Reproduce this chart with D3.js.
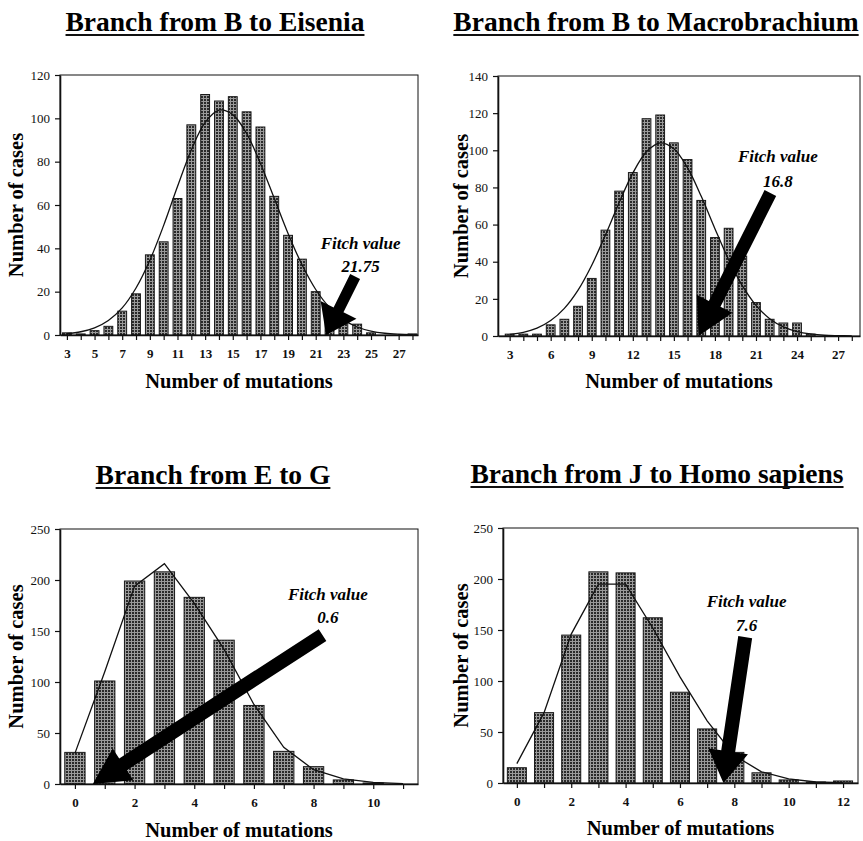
<!DOCTYPE html>
<html>
<head>
<meta charset="utf-8">
<script src="https://cdn.jsdelivr.net/npm/d3@7"></script>
<style>
  body { margin: 0; background: #fff; }
</style>
</head>
<body>
<div id="chart"></div>
<script>
// ---- data ----
const titles = ['Branch from B to Eisenia', 'Branch from B to Macrobrachium', 'Branch from E to G', 'Branch from J to Homo sapiens'];

// B -> Eisenia
const eiseniaMut = [3,4,5,6,7,8,9,10,11,12,13,14,15,16,17,18,19,20,21,22,23,24,25,26,27,28];
const eiseniaCases = [1,0.5,2,4,11,19,37,43,63,97,111,108,110,103,96,64,46,35,20,12,6,5,1,0,0,0.5];
const eiseniaFit = [0.6,1.5,3.3,6.7,12.5,21.7,34.5,50.6,68.5,85.4,98.1,103.8,101.7,93,79.2,63.1,46.9,32.5,21,12.7,7.1,3.7,1.8,0.8,0.35,0.15];
const eiseniaTicks = [3,5,7,9,11,13,15,17,19,21,23,25,27];

// B -> Macrobrachium
const macroMut = [3,4,5,6,7,8,9,10,11,12,13,14,15,16,17,18,19,20,21,22,23,24,25,26,27];
const macroCases = [1,1,1,6,9,16,31,57,78,88,117,119,104,95,73,53,58,43,18,9,7,7,1,0,0];
const macroFitX = [3,4,5,6,7,8,9,10,11,12,13,14,15,16,17,18,19,20,21,22,23,24,25,26,27,28];
const macroFit = [0.9,2,4.2,8.3,14.9,24.7,38.1,54.4,71.8,87.7,99.2,104,100.8,90.5,75.2,57.8,41.1,27.1,16.5,9.3,4.9,2.4,1.1,0.4,0.2,0.1];
const macroTicks = [3,6,9,12,15,18,21,24,27];

// E -> G
const egMut = [0,1,2,3,4,5,6,7,8,9,10,11];
const egCases = [31,101,199,208,183,141,77,32,17,4,1,0];
const egFit = [30,110,194,216,177,132,78,36,14,5,1.6,0.3];
const egTicks = [0,2,4,6,8,10];

// J -> Homo sapiens
const homoMut = [0,1,2,3,4,5,6,7,8,9,10,11,12];
const homoCases = [15,69,145,207,206,162,89,53,30,10,3,1,2];
const homoFit = [19,69,146,195,195,152,104,61,27,11,4,1,0.3];
const homoTicks = [0,2,4,6,8,10,12];

const fitchValues = [21.75, 16.8, 0.6, 7.6];
const yMaxes = [120, 140, 250, 250];
const ySteps = [20, 20, 50, 50];

// ---- layout ----
const width = 863;
const height = 841;
const FONT = '"Liberation Serif", "Times New Roman", Times, serif';

const panels = [
  { title: titles[0], mut: eiseniaMut, cases: eiseniaCases, fitX: eiseniaMut, fit: eiseniaFit, ticks: eiseniaTicks,
    fitch: fitchValues[0], yMax: yMaxes[0], yStep: ySteps[0], xDomain: [2.5, 28.4],
    rect: { x: 60, y: 75, w: 358, h: 260 }, barFrac: 0.64, smooth: true,
    arrowFrom: [23.85, 27], labelAt: [24.25, 39.5], lineGap: 23, shaft: 11, head: 40, headLen: 28,
    titleX: 215, titleY: 31, yLabelX: 23, xLabelY: 388 },
  { title: titles[1], mut: macroMut, cases: macroCases, fitX: macroFitX, fit: macroFit, ticks: macroTicks,
    fitch: fitchValues[1], yMax: yMaxes[1], yStep: ySteps[1], xDomain: [2.15, 28.6],
    rect: { x: 498, y: 76, w: 362, h: 260 }, barFrac: 0.64, smooth: true,
    arrowFrom: [22.05, 77], labelAt: [22.6, 93.5], lineGap: 25, shaft: 13, head: 40, headLen: 36,
    titleX: 656, titleY: 31, yLabelX: 468, xLabelY: 388 },
  { title: titles[2], mut: egMut, cases: egCases, fitX: egMut, fit: egFit, ticks: egTicks,
    fitch: fitchValues[2], yMax: yMaxes[2], yStep: ySteps[2], xDomain: [-0.5, 11.5],
    rect: { x: 60, y: 529, w: 358, h: 255 }, barFrac: 0.68, smooth: false,
    arrowFrom: [8.3, 146], labelAt: [8.48, 180], lineGap: 23, shaft: 14, head: 38, headLen: 36,
    titleX: 213, titleY: 484, yLabelX: 23, xLabelY: 837 },
  { title: titles[3], mut: homoMut, cases: homoCases, fitX: homoMut, fit: homoFit, ticks: homoTicks,
    fitch: fitchValues[3], yMax: yMaxes[3], yStep: ySteps[3], xDomain: [-0.51, 12.55],
    rect: { x: 503, y: 528, w: 355, h: 255 }, barFrac: 0.7, smooth: false,
    arrowFrom: [8.4, 143], labelAt: [8.45, 173], lineGap: 24, shaft: 14, head: 40, headLen: 32,
    titleX: 657, titleY: 483, yLabelX: 468, xLabelY: 835 }
];

const svg = d3.select('#chart')
  .append('svg')
  .attr('width', width)
  .attr('height', height)
  .style('background', '#fff');

// halftone fill for the bars
const defs = svg.append('defs');
const pat = defs.append('pattern')
  .attr('id', 'halftone')
  .attr('patternUnits', 'userSpaceOnUse')
  .attr('width', 3)
  .attr('height', 3);
pat.append('rect').attr('width', 3).attr('height', 3).attr('fill', '#9a9a9a');
pat.append('rect').attr('width', 2).attr('height', 2).attr('fill', '#2a2a2a');

const drawPanel = (p) => {
  const r = p.rect;
  const x = d3.scaleLinear().domain(p.xDomain).range([r.x, r.x + r.w]);
  const y = d3.scaleLinear().domain([0, p.yMax]).range([r.y + r.h, r.y]);
  const g = svg.append('g');

  // title with underline
  const t = g.append('text')
    .attr('x', p.titleX)
    .attr('y', p.titleY)
    .attr('text-anchor', 'middle')
    .style('font-family', FONT)
    .style('font-weight', 'bold')
    .style('font-size', '27.5px')
    .text(p.title);
  const tw = t.node().getComputedTextLength();
  g.append('line')
    .attr('x1', p.titleX - tw / 2)
    .attr('x2', p.titleX + tw / 2)
    .attr('y1', p.titleY + 4)
    .attr('y2', p.titleY + 4)
    .attr('stroke', '#111')
    .attr('stroke-width', 2);

  // bars
  const bw = (x(1) - x(0)) * p.barFrac;
  g.selectAll('.bar')
    .data(p.mut.map((m, i) => ({ m: m, v: p.cases[i] })))
    .enter()
    .append('rect')
    .attr('class', 'bar')
    .attr('x', (d) => x(d.m) - bw / 2)
    .attr('y', (d) => y(d.v))
    .attr('width', bw)
    .attr('height', (d) => y(0) - y(d.v))
    .attr('fill', 'url(#halftone)')
    .attr('stroke', (d) => (d.v > 0 ? '#1a1a1a' : 'none'))
    .attr('stroke-width', 1);

  // fitted curve
  const line = d3.line()
    .x((d) => x(d[0]))
    .y((d) => y(d[1]))
    .curve(p.smooth ? d3.curveCatmullRom : d3.curveLinear);
  g.append('path')
    .datum(p.fitX.map((m, i) => [m, p.fit[i]]))
    .attr('d', line)
    .attr('fill', 'none')
    .attr('stroke', '#111')
    .attr('stroke-width', 1.3);

  // frame
  g.append('rect')
    .attr('x', r.x).attr('y', r.y)
    .attr('width', r.w).attr('height', r.h)
    .attr('fill', 'none')
    .attr('stroke', '#111')
    .attr('stroke-width', 1);

  // x axis: ticks at every integer, labels on some
  const allTicks = d3.range(Math.ceil(p.xDomain[0]), Math.floor(p.xDomain[1]) + 1);
  const xAxis = d3.axisBottom(x)
    .tickValues(allTicks)
    .tickSize(5)
    .tickSizeOuter(0)
    .tickFormat((d) => (p.ticks.indexOf(d) >= 0 ? d : ''));
  const xg = g.append('g')
    .attr('transform', 'translate(0,' + y(0) + ')')
    .call(xAxis);
  xg.select('.domain').attr('stroke-width', 1.6).attr('stroke', '#111');
  xg.selectAll('.tick line').attr('stroke', '#111').attr('stroke-width', 1.2);
  xg.selectAll('.tick text')
    .attr('dy', '1.15em')
    .style('font-family', FONT)
    .style('font-weight', 'bold')
    .style('font-size', '13px')
    .attr('fill', '#111');

  // y axis
  const yAxis = d3.axisLeft(y)
    .tickValues(d3.range(0, p.yMax + 1, p.yStep))
    .tickSize(5)
    .tickSizeOuter(0)
    .tickPadding(5);
  const yg = g.append('g')
    .attr('transform', 'translate(' + r.x + ',0)')
    .call(yAxis);
  yg.select('.domain').attr('stroke-width', 1.6).attr('stroke', '#111');
  yg.selectAll('.tick line').attr('stroke', '#111').attr('stroke-width', 1.2);
  yg.selectAll('.tick text')
    .style('font-family', FONT)
    .style('font-size', '13px')
    .attr('fill', '#111');

  // axis titles
  g.append('text')
    .attr('x', r.x + r.w / 2)
    .attr('y', p.xLabelY)
    .attr('text-anchor', 'middle')
    .style('font-family', FONT)
    .style('font-weight', 'bold')
    .style('font-size', '20.5px')
    .text('Number of mutations');
  g.append('text')
    .attr('transform', 'translate(' + p.yLabelX + ',' + (r.y + r.h / 2) + ') rotate(-90)')
    .attr('text-anchor', 'middle')
    .style('font-family', FONT)
    .style('font-weight', 'bold')
    .style('font-size', '20.5px')
    .text('Number of cases');

  // Fitch arrow
  const x0 = x(p.arrowFrom[0]), y0 = y(p.arrowFrom[1]);
  const x1 = x(p.fitch), y1 = y(0);
  const len = Math.hypot(x1 - x0, y1 - y0);
  const ux = (x1 - x0) / len, uy = (y1 - y0) / len;
  const nx = -uy, ny = ux;
  const bx = x1 - ux * p.headLen, by = y1 - uy * p.headLen;
  const s = p.shaft / 2, h = p.head / 2;
  const pts = [
    [x0 + nx * s, y0 + ny * s],
    [bx + nx * s, by + ny * s],
    [bx + nx * h, by + ny * h],
    [x1, y1],
    [bx - nx * h, by - ny * h],
    [bx - nx * s, by - ny * s],
    [x0 - nx * s, y0 - ny * s]
  ];
  g.append('path')
    .attr('d', 'M' + pts.map((q) => q.join(',')).join('L') + 'Z')
    .attr('fill', '#000');

  // Fitch label
  const lx = x(p.labelAt[0]), ly = y(p.labelAt[1]);
  g.append('text')
    .attr('x', lx).attr('y', ly)
    .attr('text-anchor', 'middle')
    .style('font-family', FONT)
    .style('font-weight', 'bold')
    .style('font-style', 'italic')
    .style('font-size', '17px')
    .text('Fitch value');
  g.append('text')
    .attr('x', lx).attr('y', ly + p.lineGap)
    .attr('text-anchor', 'middle')
    .style('font-family', FONT)
    .style('font-weight', 'bold')
    .style('font-style', 'italic')
    .style('font-size', '17px')
    .text(p.fitch);
};

panels.forEach(drawPanel);
</script>
</body>
</html>
